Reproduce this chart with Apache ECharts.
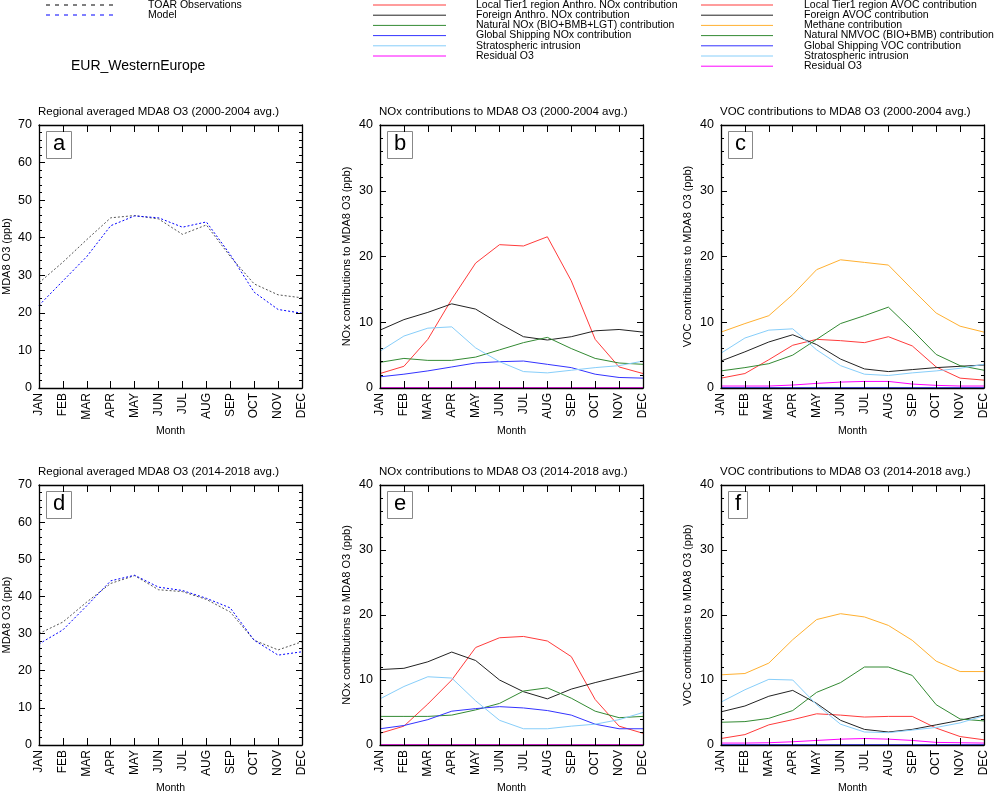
<!DOCTYPE html>
<html>
<head>
<meta charset="utf-8">
<script src="https://cdn.jsdelivr.net/npm/echarts@6/dist/echarts.min.js"></script>
<style>
html,body{margin:0;padding:0;background:#fff;}
#chart{width:994px;height:795px;}
</style>
</head>
<body>
<div id="chart"></div>
<script>
// ---------- DATA ----------
const months = ['JAN','FEB','MAR','APR','MAY','JUN','JUL','AUG','SEP','OCT','NOV','DEC'];

// Panel a (2000-2004)
const obs_2000   = [28.0, 33.5, 39.5, 45.3, 45.9, 45.0, 40.9, 43.4, 35.0, 27.7, 24.8, 24.0];
const model_2000 = [22.0, 28.5, 35.0, 43.2, 45.8, 45.3, 42.8, 44.2, 35.5, 25.5, 20.9, 19.9];
// Panel d (2014-2018)
const obs_2014   = [30.0, 33.1, 38.5, 43.5, 45.6, 41.8, 41.3, 39.2, 35.8, 28.2, 25.6, 27.8];
const model_2014 = [27.2, 31.0, 37.5, 44.2, 45.7, 42.5, 41.6, 39.5, 36.9, 28.2, 24.2, 25.1];

// Panel b: NOx contributions (2000-2004)
const nox_local_2000   = [2.2, 3.3, 7.4, 13.5, 19.0, 21.8, 21.6, 23.0, 16.3, 7.4, 3.2, 2.2];
const nox_foreign_2000 = [8.8, 10.4, 11.5, 12.8, 12.0, 9.8, 7.8, 7.3, 7.8, 8.7, 8.9, 8.5];
const nox_natural_2000 = [3.9, 4.5, 4.2, 4.2, 4.7, 5.8, 6.9, 7.7, 6.0, 4.5, 3.8, 3.6];
const nox_ship_2000    = [1.7, 2.1, 2.6, 3.2, 3.8, 4.0, 4.1, 3.6, 3.1, 2.1, 1.6, 1.5];
const nox_strat_2000   = [5.6, 7.9, 9.1, 9.3, 6.1, 4.0, 2.5, 2.3, 2.7, 3.1, 3.4, 4.1];
const nox_resid_2000   = [0.05, 0.05, 0.05, 0.05, 0.05, 0.05, 0.05, 0.05, 0.05, 0.05, 0.05, 0.05];

// Panel c: VOC contributions (2000-2004)
const voc_local_2000   = [1.5, 2.2, 4.3, 6.5, 7.4, 7.2, 6.9, 7.8, 6.4, 3.2, 1.5, 1.2];
const voc_foreign_2000 = [4.1, 5.5, 7.0, 8.1, 6.6, 4.4, 2.9, 2.5, 2.8, 3.1, 3.3, 3.5];
const voc_methane_2000 = [8.5, 9.8, 11.0, 14.2, 18.0, 19.5, 19.1, 18.7, 15.0, 11.4, 9.4, 8.5];
const voc_natural_2000 = [2.6, 3.1, 3.7, 5.0, 7.4, 9.8, 11.0, 12.3, 8.8, 5.1, 3.4, 2.7];
const voc_ship_2000    = [0.05, 0.05, 0.05, 0.05, 0.05, 0.05, 0.05, 0.05, 0.05, 0.05, 0.05, 0.05];
const voc_strat_2000   = [5.3, 7.6, 8.8, 9.0, 5.8, 3.4, 2.1, 1.9, 2.3, 2.6, 3.0, 3.6];
const voc_resid_2000   = [0.3, 0.3, 0.3, 0.45, 0.7, 0.9, 1.0, 1.0, 0.6, 0.4, 0.3, 0.3];

// Panel e: NOx contributions (2014-2018)
const nox_local_2014   = [1.8, 2.9, 6.3, 10.0, 15.0, 16.5, 16.7, 16.0, 13.6, 7.0, 2.9, 1.8];
const nox_foreign_2014 = [11.6, 11.8, 12.8, 14.3, 13.0, 10.0, 8.2, 7.1, 8.6, 9.6, 10.5, 11.4];
const nox_natural_2014 = [4.4, 4.4, 4.4, 4.6, 5.4, 6.4, 8.3, 8.8, 7.2, 5.2, 4.2, 4.4];
const nox_ship_2014    = [2.5, 3.0, 3.9, 5.2, 5.6, 5.9, 5.7, 5.3, 4.6, 3.2, 2.5, 2.5];
const nox_strat_2014   = [7.1, 9.0, 10.5, 10.3, 6.8, 3.8, 2.5, 2.5, 2.9, 3.2, 3.9, 5.0];
const nox_resid_2014   = [0.05, 0.05, 0.05, 0.05, 0.05, 0.05, 0.05, 0.05, 0.05, 0.05, 0.05, 0.05];

// Panel f: VOC contributions (2014-2018)
const voc_local_2014   = [1.0, 1.6, 3.1, 3.9, 4.8, 4.6, 4.3, 4.4, 4.4, 2.6, 1.3, 0.8];
const voc_foreign_2014 = [5.1, 6.0, 7.5, 8.4, 6.4, 3.8, 2.4, 2.0, 2.4, 3.1, 3.8, 4.6];
const voc_methane_2014 = [10.8, 11.0, 12.6, 16.2, 19.3, 20.2, 19.7, 18.4, 16.1, 12.9, 11.3, 11.3];
const voc_natural_2014 = [3.5, 3.6, 4.1, 5.3, 8.1, 9.6, 12.0, 12.0, 10.7, 6.2, 4.0, 3.7];
const voc_ship_2014    = [0.05, 0.05, 0.05, 0.05, 0.05, 0.05, 0.05, 0.05, 0.05, 0.05, 0.05, 0.05];
const voc_strat_2014   = [6.6, 8.5, 10.1, 10.0, 6.2, 3.2, 2.0, 1.9, 2.3, 2.7, 3.4, 4.5];
const voc_resid_2014   = [0.3, 0.3, 0.35, 0.5, 0.7, 0.9, 1.0, 0.9, 0.7, 0.4, 0.35, 0.3];

const noxLegend = ['Local Tier1 region Anthro. NOx contribution','Foreign Anthro. NOx contribution','Natural NOx (BIO+BMB+LGT) contribution','Global Shipping NOx contribution','Stratospheric intrusion','Residual O3'];
const vocLegend = ['Local Tier1 region AVOC contribution','Foreign AVOC contribution','Methane contribution','Natural NMVOC (BIO+BMB) contribution','Global Shipping VOC contribution','Stratospheric intrusion','Residual O3'];

// ---------- STYLE ----------
const FONT = 'Liberation Sans, Arial, Helvetica, sans-serif';
const C = {red:'#ff3b3b', black:'#222222', green:'#338a33', blue:'#3333ff', lblue:'#87cefa', mag:'#ff00ff', orange:'#ffb030', obs:'#555555', model:'#0000ff'};
const noxColors = [C.red, C.black, C.green, C.blue, C.lblue, C.mag];
const vocColors = [C.red, C.black, C.orange, C.green, C.blue, C.lblue, C.mag];

const PW = 263, PH = 263;
const lefts = [39, 380, 721];
const tops = [125, 485];

const panels = [
  {l:0,t:0,max:70,yname:'MDA8 O3 (ppb)',title:'Regional averaged MDA8 O3 (2000-2004 avg.)',tag:'a', kind:'o3', data:[obs_2000, model_2000]},
  {l:1,t:0,max:40,yname:'NOx contributions to MDA8 O3 (ppb)',title:'NOx contributions to MDA8 O3 (2000-2004 avg.)',tag:'b', kind:'nox', data:[nox_local_2000,nox_foreign_2000,nox_natural_2000,nox_ship_2000,nox_strat_2000,nox_resid_2000]},
  {l:2,t:0,max:40,yname:'VOC contributions to MDA8 O3 (ppb)',title:'VOC contributions to MDA8 O3 (2000-2004 avg.)',tag:'c', kind:'voc', data:[voc_local_2000,voc_foreign_2000,voc_methane_2000,voc_natural_2000,voc_ship_2000,voc_strat_2000,voc_resid_2000]},
  {l:0,t:1,max:70,yname:'MDA8 O3 (ppb)',title:'Regional averaged MDA8 O3 (2014-2018 avg.)',tag:'d', kind:'o3', data:[obs_2014, model_2014]},
  {l:1,t:1,max:40,yname:'NOx contributions to MDA8 O3 (ppb)',title:'NOx contributions to MDA8 O3 (2014-2018 avg.)',tag:'e', kind:'nox', data:[nox_local_2014,nox_foreign_2014,nox_natural_2014,nox_ship_2014,nox_strat_2014,nox_resid_2014]},
  {l:2,t:1,max:40,yname:'VOC contributions to MDA8 O3 (ppb)',title:'VOC contributions to MDA8 O3 (2014-2018 avg.)',tag:'f', kind:'voc', data:[voc_local_2014,voc_foreign_2014,voc_methane_2014,voc_natural_2014,voc_ship_2014,voc_strat_2014,voc_resid_2014]}
];

const grid = [], xAxis = [], yAxis = [], series = [], title = [];
function axLine(){ return {show:true, onZero:false, lineStyle:{color:'#000', width:1.3}}; }
function tick(len){ return {show:true, inside:true, length:len, interval:0, lineStyle:{color:'#000', width:1}}; }
function minor(){ return {show:true, splitNumber:5, length:3, lineStyle:{color:'#000', width:1}}; }

panels.forEach((p, i) => {
  const L = lefts[p.l], T = tops[p.t];
  grid.push({left:L, top:T, width:PW, height:PH, containLabel:false});
  // bottom x
  xAxis.push({type:'category', gridIndex:i, position:'bottom', data:months, boundaryGap:false, z:10,
    axisLine:axLine(), axisTick:tick(7),
    axisLabel:{interval:0, rotate:90, margin:5, fontSize:12, color:'#000', fontFamily:FONT},
    name:'Month', nameLocation:'middle', nameGap:38, nameTextStyle:{fontSize:10.5, color:'#000', fontFamily:FONT},
    splitLine:{show:false}});
  // top x
  xAxis.push({type:'category', gridIndex:i, position:'top', data:months, boundaryGap:false, z:10,
    axisLine:axLine(), axisTick:tick(7),
    axisLabel:{show:false}, splitLine:{show:false}});
  // left y
  yAxis.push({type:'value', gridIndex:i, position:'left', min:0, max:p.max, interval:10, z:10,
    axisLine:axLine(), axisTick:tick(6), minorTick:minor(),
    axisLabel:{margin:7, fontSize:12.5, color:'#000', fontFamily:FONT},
    name:p.yname, nameLocation:'middle', nameGap:p.l===0?27:28, nameRotate:90,
    nameTextStyle:{fontSize:11, color:'#000', fontFamily:FONT},
    splitLine:{show:false}, minorSplitLine:{show:false}});
  // right y
  yAxis.push({type:'value', gridIndex:i, position:'right', min:0, max:p.max, interval:10, z:10,
    axisLine:axLine(), axisTick:tick(6), minorTick:minor(),
    axisLabel:{show:false}, splitLine:{show:false}, minorSplitLine:{show:false}});

  const xi = i*2, yi = i*2;
  if (p.kind === 'o3') {
    series.push({type:'line', xAxisIndex:xi, yAxisIndex:yi, data:p.data[0], symbol:'none', silent:true,
      lineStyle:{color:C.obs, width:1, type:[2,2]}});
    series.push({type:'line', xAxisIndex:xi, yAxisIndex:yi, data:p.data[1], symbol:'none', silent:true,
      lineStyle:{color:C.model, width:1, type:[2,2]}});
  } else {
    const cols = p.kind === 'nox' ? noxColors : vocColors;
    p.data.forEach((d, k) => {
      series.push({type:'line', xAxisIndex:xi, yAxisIndex:yi, data:d, symbol:'none', silent:true,
        lineStyle:{color:cols[k], width:1}});
    });
  }
  title.push({text:p.title, left:L-1, top:T-19, padding:0,
    textStyle:{fontSize:11.5, fontWeight:'normal', color:'#000', fontFamily:FONT}});
  title.push({text:p.tag, left:L+7, top:T+6, padding:[1,7,3,7], borderColor:'#888', borderWidth:1,
    backgroundColor:'#fff',
    textStyle:{fontSize:22, lineHeight:24, fontWeight:'normal', color:'#000', fontFamily:FONT}});
});

// ---------- LEGENDS (graphic) ----------
const graphic = [];
function legendRow(x1, x2, tx, y, color, label, dash) {
  graphic.push({type:'line', shape:{x1:x1, y1:y, x2:x2, y2:y}, silent:true,
    style:{stroke:color, lineWidth:1, lineDash:dash || null}});
  graphic.push({type:'text', x:tx, y:y, silent:true,
    style:{text:label, fill:'#000', fontSize:10.5, fontFamily:FONT, verticalAlign:'middle', align:'left'}});
}
legendRow(46, 117, 148, 5, '#000', 'TOAR Observations', [4,5]);
legendRow(46, 117, 148, 15, C.model, 'Model', [4,5]);
noxLegend.forEach((t, k) => legendRow(373, 446, 476, 5 + k*10.2, noxColors[k], t));
vocLegend.forEach((t, k) => legendRow(701, 773, 804, 5 + k*10.2, vocColors[k], t));
graphic.push({type:'text', x:71, y:66, silent:true,
  style:{text:'EUR_WesternEurope', fill:'#000', fontSize:14, fontFamily:FONT, verticalAlign:'middle', align:'left'}});

const chart = echarts.init(document.getElementById('chart'), null, {renderer:'canvas'});
chart.setOption({
  backgroundColor:'#fff',
  animation:false,
  title, grid, xAxis, yAxis, series, graphic,
  tooltip:{show:false}
});
</script>
</body>
</html>
